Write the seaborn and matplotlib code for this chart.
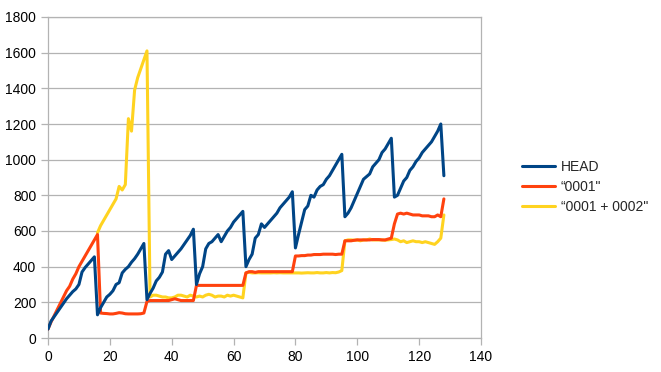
import numpy as np
import pandas as pd
import seaborn as sns
import matplotlib.pyplot as plt

x = list(range(129))

head = [50, 95, 120, 145, 170, 195, 220, 240, 260, 275, 300, 370, 395, 415, 435, 455,
        130, 170, 200, 230, 245, 265, 300, 310, 365, 385, 400, 425, 445, 470, 500, 530,
        215, 250, 280, 320, 340, 370, 470, 490, 440, 460, 480, 500, 525, 550, 575, 610,
        300, 360, 400, 500, 530, 540, 560, 580, 540, 570, 600, 620, 650, 670, 690, 710,
        400, 440, 470, 560, 580, 640, 620, 640, 660, 680, 700, 730, 750, 770, 790, 820,
        505, 580, 650, 720, 740, 800, 790, 830, 850, 860, 890, 910, 940, 970, 1000, 1030,
        680, 700, 730, 770, 810, 850, 890, 905, 920, 960, 980, 1000, 1040, 1060, 1090, 1120,
        790, 800, 840, 880, 900, 940, 960, 990, 1010, 1040, 1060, 1080, 1100, 1130, 1160, 1200,
        910]

p0001 = [50, 90, 125, 160, 195, 230, 265, 290, 330, 360, 400, 430, 460, 490, 520, 550,
         580, 140, 138, 137, 135, 135, 138, 142, 140, 136, 135, 135, 135, 135, 136, 140,
         205, 210, 210, 210, 210, 210, 210, 210, 215, 220, 215, 210, 210, 210, 210, 210,
         295, 295, 295, 295, 295, 295, 295, 295, 295, 295, 295, 295, 295, 295, 295, 295,
         365, 372, 372, 368, 372, 372, 372, 372, 372, 372, 372, 372, 372, 372, 372, 372,
         460, 460, 462, 462, 465, 465, 468, 468, 468, 470, 470, 470, 470, 468, 470, 470,
         545, 545, 545, 548, 550, 550, 550, 550, 550, 552, 552, 552, 550, 550, 555, 560,
         640, 695, 700, 695, 700, 695, 690, 690, 690, 685, 685, 685, 680, 680, 690, 680,
         780]

nan = float("nan")
p0001_0002 = [nan, nan, nan, nan, nan, nan, nan, nan, nan, nan, nan, nan, nan, nan, nan, nan,
              590, 630, 660, 690, 720, 750, 780, 850, 830, 860, 1230, 1160, 1390, 1460, 1510, 1560,
              1610, 230, 240, 240, 235, 230, 230, 225, 225, 230, 240, 240, 235, 230, 240, 235,
              230, 235, 230, 240, 245, 240, 230, 235, 235, 230, 240, 235, 240, 235, 230, 225,
              365, 368, 365, 365, 366, 365, 365, 365, 365, 366, 365, 366, 365, 365, 365, 365,
              365, 365, 364, 365, 366, 365, 365, 367, 365, 365, 367, 365, 367, 366, 370, 378,
              545, 550, 550, 548, 550, 545, 550, 550, 555, 550, 550, 550, 550, 548, 550, 552,
              555, 550, 540, 545, 535, 540, 545, 540, 540, 535, 540, 535, 530, 525, 540, 560,
              690]

labels = ["HEAD", "\u201c0001\"", "\u201c0001 + 0002\""]
colors = ["#004586", "#ff420e", "#ffd320"]

df = pd.concat([
    pd.DataFrame({"x": x, "y": head, "series": labels[0]}),
    pd.DataFrame({"x": x, "y": p0001, "series": labels[1]}),
    pd.DataFrame({"x": x, "y": p0001_0002, "series": labels[2]}),
], ignore_index=True).dropna()

sns.set_style("white")
plt.rcParams["font.family"] = ["Liberation Sans", "DejaVu Sans"]

fig = plt.figure(figsize=(6.61, 3.72), dpi=100)
ax = fig.add_axes([48 / 661, 1 - 338 / 372, (481 - 48) / 661, (338 - 17) / 372])

sns.lineplot(data=df, x="x", y="y", hue="series", hue_order=labels,
             palette=colors, linewidth=2.2, ax=ax, sort=False)

# first series on top, like the original
for line, z in zip(ax.lines[:3], [5, 4, 3]):
    line.set_zorder(z)

ax.set_xlim(0, 140)
ax.set_ylim(0, 1800)
ax.set_xticks(range(0, 141, 20))
ax.set_yticks(range(0, 1801, 200))
ax.yaxis.grid(True, color="#b3b3b3", linewidth=0.9)
ax.xaxis.grid(False)
ax.set_axisbelow(True)
for s in ax.spines.values():
    s.set_color("#b3b3b3")
    s.set_linewidth(0.9)
ax.tick_params(axis="both", which="both", length=5, width=0.9, color="#b3b3b3",
               labelsize=10, labelcolor="#000000", direction="out",
               bottom=True, left=True)
ax.set_xlabel("")
ax.set_ylabel("")

ax.legend(loc="center left", bbox_to_anchor=(515 / 661, 1 - 187 / 372),
          bbox_transform=fig.transFigure, frameon=False, fontsize=10,
          handlelength=2.4, handletextpad=0.4, labelspacing=0.45, borderpad=0)

fig.savefig("out.png", dpi=100)
